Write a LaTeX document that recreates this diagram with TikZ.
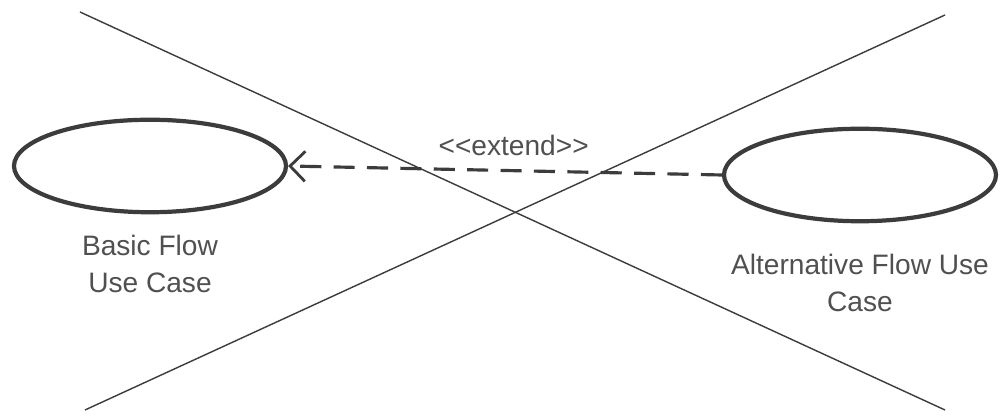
\documentclass[tikz,border=0pt]{standalone}
\usepackage{fontspec}
\setmainfont{Liberation Sans}
\usepackage{tikz}
\usetikzlibrary{arrows.meta,positioning,shapes.geometric}
\usepackage{xcolor}
\definecolor{sketchgrey}{HTML}{3C3C3C}
\definecolor{labelgrey}{HTML}{505050}
\tikzset{
  usecase/.style={ellipse, draw=sketchgrey, line width=2.4pt, minimum width=5.44cm,
                  minimum height=1.85cm, inner sep=0pt},
  caption/.style={font=\fontsize{16}{21}\selectfont, text=labelgrey, align=center},
  crossline/.style={draw=sketchgrey, line width=0.8pt},
  extendflow/.style={-{Straight Barb[length=3mm,width=6mm,line width=1.6pt]},
                     draw=sketchgrey, line width=1.8pt, dash pattern=on 12pt off 7pt},
}

\begin{document}
\begin{tikzpicture}[node distance=3mm]
\useasboundingbox (0,0) rectangle (20.14,8.32);
\fill[white] (0,0) rectangle (20.14,8.32);

\node[usecase] (basic) at (3.0,5.0) {};
\node[caption, below=3mm of basic] (basiclbl) {Basic Flow\\Use Case};

\node[usecase] (alt) at (17.2,4.82) {};
\node[caption, below=5mm of alt] (altlbl) {Alternative Flow Use\\Case};

\draw[extendflow] (alt.west) -- node[caption, above=1.5mm, pos=0.48] {{<}{<}extend{>}{>}} (basic.east);

% the big cross
\coordinate (tl) at (1.6,8.08);
\coordinate (br) at (18.9,0.12);
\coordinate (bl) at (1.7,0.12);
\coordinate (tr) at (18.9,8.02);
\draw[crossline] (tl) -- (br);
\draw[crossline] (bl) -- (tr);
\end{tikzpicture}
\end{document}
